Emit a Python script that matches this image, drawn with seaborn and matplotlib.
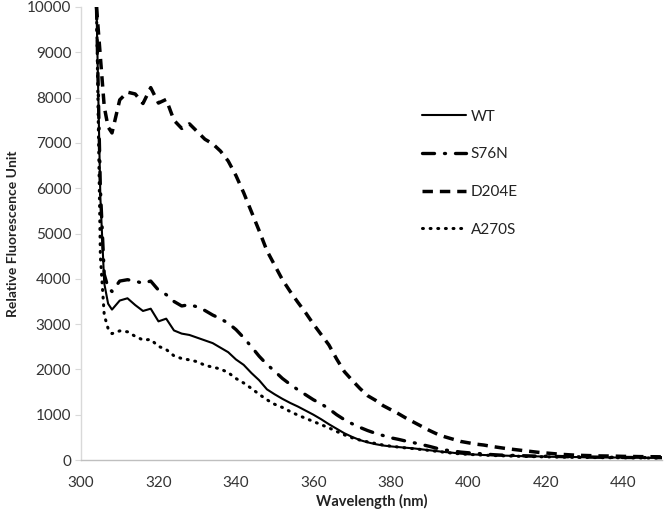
import numpy as np
import pandas as pd
import seaborn as sns
import matplotlib.pyplot as plt

wavelength = [304, 305, 306, 307, 308, 310, 312, 314, 316, 318, 320, 322, 324, 326, 328,
              330, 332, 334, 336, 338, 340, 342, 344, 346, 348, 350, 352, 354, 356, 358, 360,
              362, 364, 366, 368, 370, 372, 374, 376, 378, 380, 382, 384, 386, 388, 390, 392,
              394, 396, 398, 400, 402, 404, 406, 408, 410, 412, 414, 416, 418, 420, 422, 424,
              426, 428, 430, 432, 434, 436, 438, 440, 442, 444, 446, 448, 450]

wt = [10000, 5800, 3900, 3450, 3320, 3520, 3570, 3420, 3290, 3340, 3060, 3120, 2860, 2790, 2760,
      2700, 2640, 2580, 2480, 2380, 2220, 2100, 1920, 1760, 1560, 1450, 1350, 1260, 1180, 1090, 1000,
      900, 790, 690, 590, 510, 440, 390, 350, 320, 300, 285, 270, 255, 235, 215, 195,
      175, 160, 140, 125, 120, 110, 105, 100, 95, 90, 85, 80, 80, 75, 70, 70,
      65, 65, 60, 60, 58, 55, 55, 52, 50, 50, 48, 48, 45]

s76n = [10000, 6000, 4100, 3800, 3720, 3950, 3980, 3950, 3900, 3950, 3750, 3650, 3500, 3400, 3430,
        3380, 3300, 3200, 3120, 3020, 2880, 2700, 2500, 2290, 2110, 1960, 1800, 1670, 1550, 1440, 1330,
        1240, 1130, 1000, 890, 800, 720, 650, 590, 540, 490, 455, 415, 380, 340, 300, 255,
        220, 200, 175, 160, 145, 135, 120, 110, 105, 100, 95, 90, 85, 82, 80, 75,
        72, 70, 68, 65, 62, 60, 58, 56, 55, 54, 52, 52, 50]

d204e = [10000, 8900, 7800, 7350, 7220, 7950, 8120, 8080, 7870, 8220, 7880, 7960, 7500, 7320, 7420,
         7250, 7080, 6980, 6820, 6600, 6280, 5900, 5480, 5060, 4620, 4300, 3980, 3720, 3480, 3250, 3000,
         2770, 2540, 2230, 1950, 1760, 1580, 1420, 1320, 1200, 1110, 1020, 920, 830, 740, 650, 570,
         510, 460, 410, 380, 350, 330, 300, 275, 250, 230, 210, 190, 170, 155, 140, 125,
         115, 105, 100, 95, 90, 88, 85, 80, 78, 75, 73, 72, 70]

a270s = [10000, 4500, 3200, 2900, 2790, 2850, 2830, 2730, 2650, 2660, 2510, 2440, 2300, 2240, 2210,
         2170, 2090, 2050, 2010, 1930, 1800, 1700, 1580, 1450, 1330, 1230, 1160, 1070, 990, 920, 850,
         780, 710, 630, 555, 490, 440, 400, 365, 330, 305, 285, 265, 250, 230, 210, 190,
         170, 150, 135, 125, 115, 108, 100, 95, 90, 85, 80, 76, 72, 70, 66, 64,
         60, 58, 56, 54, 52, 50, 50, 48, 46, 45, 44, 42, 40]

variants = ["WT", "S76N", "D204E", "A270S"]
series = [wt, s76n, d204e, a270s]

df = pd.concat([pd.DataFrame({"Wavelength": wavelength, "RFU": vals, "variant": name})
                for name, vals in zip(variants, series)], ignore_index=True)

sns.set_style("white")
plt.rcParams["font.family"] = ["Lato", "DejaVu Sans"]

fig = plt.figure(figsize=(6.69, 5.16), dpi=100)
ax = fig.add_axes([81 / 669, 1 - 460 / 516, 581 / 669, 453 / 516])

line_w = {"WT": 1.5, "S76N": 2.4, "D204E": 2.5, "A270S": 2.2}
dash_map = {"WT": "", "S76N": (3.6, 3.0, 0.3, 3.0), "D204E": (3.0, 2.0), "A270S": (0.3, 2.2)}

sns.lineplot(data=df, x="Wavelength", y="RFU", hue="variant", style="variant",
             hue_order=variants, style_order=variants,
             palette=["black"] * 4, dashes=dash_map, ax=ax, legend=True)

for ln, name in zip(ax.lines, variants):
    ln.set_linewidth(line_w[name])
    if name in ("S76N", "A270S"):
        ln.set_dash_capstyle("round")

ax.set_xlim(300, 450)
ax.set_ylim(0, 10000)
ax.set_xticks([300, 320, 340, 360, 380, 400, 420, 440])
ax.set_yticks(range(0, 10001, 1000))

for s in ["top", "right"]:
    ax.spines[s].set_visible(False)
ax.spines["left"].set_color("#d9d9d9")
ax.spines["bottom"].set_color("#bfbfbf")
ax.spines["left"].set_linewidth(1.0)
ax.spines["bottom"].set_linewidth(1.0)
ax.tick_params(axis="y", left=True, length=4, color="#d9d9d9", labelsize=11, labelcolor="#333333", pad=3)
ax.tick_params(axis="x", bottom=False, labelsize=11, labelcolor="#333333", pad=8)

ax.set_xlabel("Wavelength (nm)", fontsize=10.5, fontweight="bold", color="#222222", labelpad=3)
ax.set_ylabel("Relative Fluorescence Unit", fontsize=10, fontweight="bold", color="#222222", labelpad=6)

handles, labels = ax.get_legend_handles_labels()
for h, name in zip(handles, labels):
    h.set_linewidth(line_w[name])
    if name in ("S76N", "A270S"):
        h.set_dash_capstyle("round")
leg = ax.legend(handles, labels, loc="upper left", bbox_to_anchor=(408 / 669, 1 - 96 / 516),
                bbox_transform=fig.transFigure, frameon=False, fontsize=11,
                handlelength=2.9, handletextpad=0.3, labelspacing=1.55)
for t in leg.get_texts():
    t.set_color("#222222")

fig.savefig("out.png", dpi=100)
